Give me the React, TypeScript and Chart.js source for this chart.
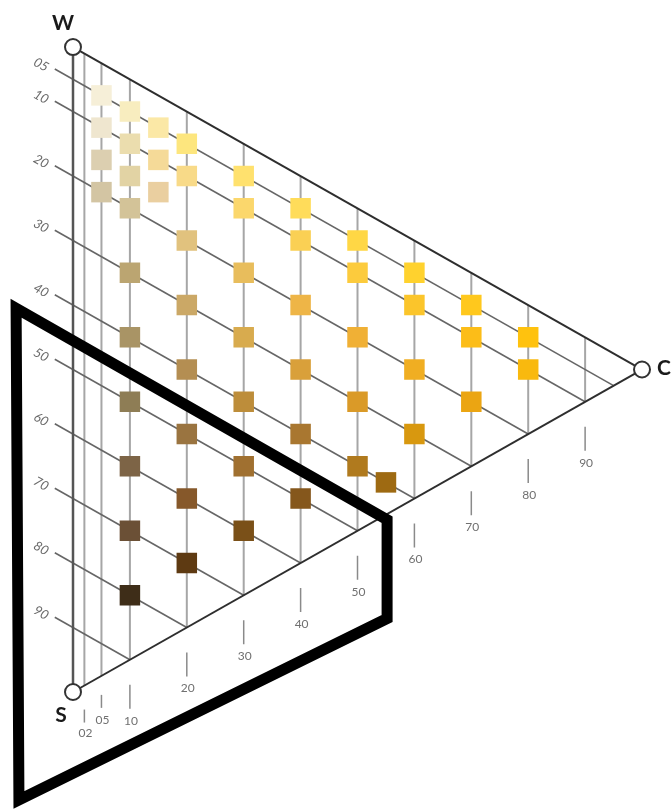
import React, { useEffect, useRef } from 'react';
import { Chart, registerables } from 'chart.js';

Chart.register(...registerables);

// NCS nuances of the yellow page, written as blackness (ss) + chromaticness (cc)
const nuances = [
  '0505', '1005', '1505', '2005',
  '0510', '1010', '1510', '2010', '3010', '4010', '5010', '6010', '7010', '8010',
  '0515', '1015', '1515',
  '0520', '1020', '2020', '3020', '4020', '5020', '6020', '7020',
  '0530', '1030', '2030', '3030', '4030', '5030', '6030',
  '0540', '1040', '2040', '3040', '4040', '5040',
  '0550', '1050', '2050', '3050', '4050',
  '4055',
  '0560', '1060', '2060', '3060',
  '0570', '1070', '2070',
  '0580', '1080',
];

// Sample colour of each nuance, same order as above
const nuanceColors = [
  '#F6EFD8', '#EFE6CF', '#DCCFB0', '#D3C5A3',
  '#F8EDBF', '#EBDDAE', '#E2D3A4', '#D3C398', '#BBA571', '#A99465', '#8E7D55', '#7D6446', '#6B5036', '#3E2D18',
  '#FBE8A6', '#F5DA98', '#EACFA0',
  '#FDE67E', '#F8DA88', '#E1C27E', '#CBA866', '#B48E52', '#9A7440', '#86582A', '#5E3A12',
  '#FFE16E', '#FBD76C', '#E8BD5C', '#D8AB4E', '#BD8D3A', '#A07030', '#7A5018',
  '#FFDC5A', '#FAD054', '#EEB547', '#D9A03A', '#A97730', '#85571C',
  '#FFD745', '#FCCB3D', '#F0B035', '#DA9A28', '#B07A1E',
  '#9E6A12',
  '#FFD22E', '#FBC52B', '#F0AE22', '#D8980F',
  '#FFC81D', '#FCBD18', '#EBA512',
  '#FFC20E', '#F9B90E',
];

// Scale labels
const blacknessTicks = ['05', '10', '20', '30', '40', '50', '60', '70', '80', '90'];
const chromaticnessTicks = ['02', '05', '10', '20', '30', '40', '50', '60', '70', '80', '90'];
const cornerLabels = ['W', 'S', 'C'];

// Outline around the dark, low-chroma corner (chromaticness, blackness)
const outlineChromaticness = [-10, 55.2, 55.2, -9.5];
const outlineBlackness = [45.5, 45.7, 61, 121.5];

const parseNuance = (n: string) => ({ s: parseInt(n.slice(0, 2), 10), c: parseInt(n.slice(2, 4), 10) });

// y value of the triangle layout: blackness plus half the chromaticness
const toPoint = (c: number, s: number) => ({ x: c, y: s + c / 2 });

const LABEL_FONT = '"Lato", "Open Sans", sans-serif';

const trianglePlugin = {
  id: 'ncsTriangle',
  beforeDatasetsDraw(chart: any) {
    const { ctx } = chart;
    const xs = chart.scales.x;
    const ys = chart.scales.y;
    const pt = (c: number, s: number): [number, number] => {
      const p = toPoint(c, s);
      return [xs.getPixelForValue(p.x), ys.getPixelForValue(p.y)];
    };
    const seg = (a: [number, number], b: [number, number]) => {
      ctx.beginPath();
      ctx.moveTo(a[0], a[1]);
      ctx.lineTo(b[0], b[1]);
      ctx.stroke();
    };

    ctx.save();
    ctx.lineCap = 'butt';

    // constant-chromaticness lines
    ctx.strokeStyle = '#a6a6a6';
    ctx.lineWidth = 2;
    chromaticnessTicks.forEach((t) => {
      const c = parseInt(t, 10);
      seg(pt(c, 0), pt(c, 100 - c));
    });

    // constant-blackness lines, starting outside the W–S edge
    ctx.strokeStyle = '#666';
    ctx.lineWidth = 1.6;
    blacknessTicks.forEach((t) => {
      const s = parseInt(t, 10);
      seg(pt(-3.2, s), pt(100 - s, s));
    });

    // triangle edges
    ctx.strokeStyle = '#555';
    ctx.lineWidth = 2.5;
    seg(pt(0, 0), pt(0, 100));
    ctx.strokeStyle = '#2e2e2e';
    ctx.lineWidth = 2;
    seg(pt(0, 0), pt(100, 0));
    seg(pt(0, 100), pt(100, 0));

    // chromaticness ticks and labels under the S–C edge
    ctx.fillStyle = '#707070';
    ctx.font = `12px ${LABEL_FONT}`;
    ctx.textAlign = 'center';
    ctx.textBaseline = 'middle';
    ctx.strokeStyle = '#8a8a8a';
    ctx.lineWidth = 1.5;
    chromaticnessTicks.forEach((t) => {
      const c = parseInt(t, 10);
      const [ex, ey] = pt(c, 100 - c);
      let t0 = 25, t1 = 49, lab = 61;
      if (c === 2) { t0 = 24; t1 = 37; lab = 48; }
      if (c === 5) { t0 = 19; t1 = 32; lab = 44; }
      seg([ex, ey + t0], [ex, ey + t1]);
      ctx.fillText(t, ex + 1, ey + lab);
    });

    // blackness labels, tilted along their lines
    const [ax, ay] = pt(0, 0);
    const [bx, by] = pt(100, 0);
    const angle = Math.atan2(by - ay, bx - ax);
    ctx.fillStyle = '#6a6a6a';
    ctx.font = `italic 13px ${LABEL_FONT}`;
    blacknessTicks.forEach((t) => {
      const s = parseInt(t, 10);
      const [lx, ly] = pt(-5.6, s);
      ctx.save();
      ctx.translate(lx, ly + 3.5);
      ctx.rotate(angle);
      ctx.fillText(t, 0, 0);
      ctx.restore();
    });

    ctx.restore();
  },
  afterDatasetsDraw(chart: any) {
    const { ctx } = chart;
    const xs = chart.scales.x;
    const ys = chart.scales.y;
    const pt = (c: number, s: number): [number, number] => {
      const p = toPoint(c, s);
      return [xs.getPixelForValue(p.x), ys.getPixelForValue(p.y)];
    };
    ctx.save();

    // thick outline
    ctx.strokeStyle = '#000';
    ctx.lineWidth = 11;
    ctx.lineJoin = 'miter';
    ctx.beginPath();
    outlineChromaticness.forEach((c, i) => {
      const [px, py] = pt(c, outlineBlackness[i]);
      if (i === 0) ctx.moveTo(px, py);
      else ctx.lineTo(px, py);
    });
    ctx.closePath();
    ctx.stroke();

    // corner markers
    const corners: [number, number][] = [pt(0, 0), pt(0, 100), pt(100, 0)];
    const labelShift: [number, number][] = [[-10, -24], [-12, 23], [22, -1]];
    corners.forEach(([cx, cy], i) => {
      ctx.beginPath();
      ctx.arc(cx, cy, 8, 0, Math.PI * 2);
      ctx.fillStyle = '#fff';
      ctx.fill();
      ctx.strokeStyle = '#333';
      ctx.lineWidth = 2;
      ctx.stroke();
      ctx.fillStyle = '#1a1a1a';
      ctx.font = `bold 21px ${LABEL_FONT}`;
      ctx.textAlign = 'center';
      ctx.textBaseline = 'middle';
      ctx.fillText(cornerLabels[i], cx + labelShift[i][0], cy + labelShift[i][1]);
    });

    ctx.restore();
  },
};

export default function App() {
  const canvasRef = useRef<HTMLCanvasElement | null>(null);

  useEffect(() => {
    if (!canvasRef.current) return;
    const points = nuances.map((n) => {
      const { s, c } = parseNuance(n);
      return toPoint(c, s);
    });
    const chart = new Chart(canvasRef.current, {
      type: 'scatter',
      data: {
        datasets: [
          {
            label: 'NCS Y',
            data: points,
            pointStyle: 'rect',
            pointRadius: 14.5,
            pointHoverRadius: 14.5,
            pointBorderWidth: 0,
            backgroundColor: nuanceColors,
            borderColor: nuanceColors,
          },
        ],
      },
      options: {
        animation: false,
        responsive: true,
        maintainAspectRatio: false,
        layout: { padding: 0, autoPadding: false },
        events: [],
        plugins: {
          legend: { display: false },
          tooltip: { enabled: false },
        },
        scales: {
          x: { type: 'linear', min: -12.83, max: 105.27, display: false },
          y: { type: 'linear', reverse: true, min: -7.29, max: 118.45, display: false },
        },
      },
      plugins: [trianglePlugin],
    });
    return () => chart.destroy();
  }, []);

  return (
    <div style={{ position: 'fixed', left: 0, top: 0, width: 672, height: 811, background: '#fff' }}>
      <canvas ref={canvasRef} />
    </div>
  );
}
